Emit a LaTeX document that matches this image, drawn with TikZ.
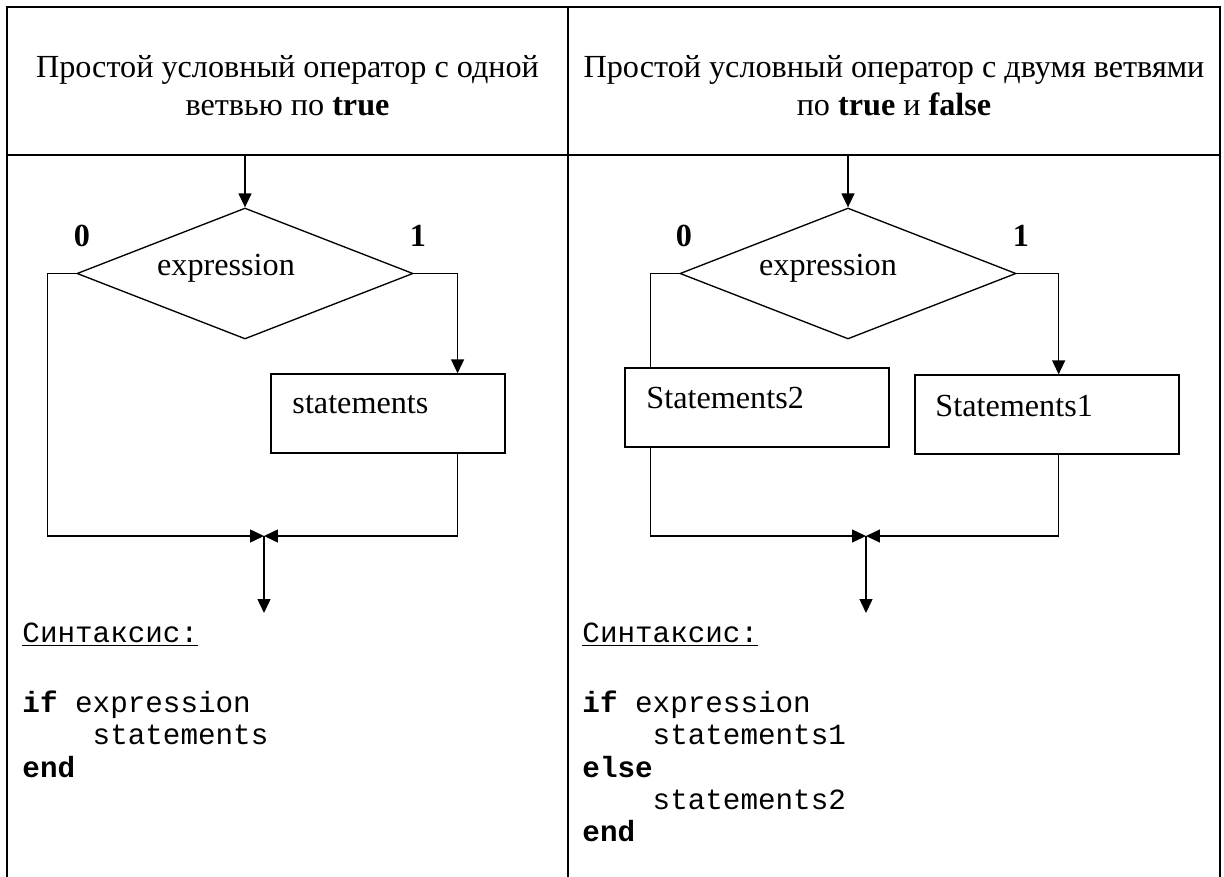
\documentclass[tikz,border=0pt]{standalone}
\usepackage{fontspec}
\setmainfont{Liberation Serif}
\setmonofont{Liberation Mono}
\usetikzlibrary{positioning, shapes.geometric, arrows.meta}
\newcommand{\codeind}{\hspace*{2.4em}}

\begin{document}
\begin{tikzpicture}[
    x=0.41pt, y=-0.41pt,
    font=\fontsize{13.2}{15.6}\selectfont\rmfamily,
    >={Triangle[length=5.7pt, width=5.3pt]},
    grid/.style={line width=0.82pt},
    flow/.style={line width=0.55pt, draw=black},
    arrow/.style={flow, ->},
    dec/.style={draw, line width=0.55pt, diamond, inner sep=0pt, minimum width=137.8pt, minimum height=53.7pt},
    box/.style={draw, line width=0.55pt, rectangle, inner sep=0pt, minimum width=108.2pt, minimum height=32.4pt},
    txt/.style={inner sep=0pt},
    flag/.style={inner sep=0pt, font=\fontsize{13.2}{15.6}\selectfont\bfseries},
    head/.style={align=center, inner sep=0pt},
    code/.style={align=left, inner sep=0pt, anchor=north west, font=\fontsize{12}{13.3}\selectfont\ttfamily}
  ]
    \useasboundingbox (0,0) rectangle (1224,877);

    % table
    \draw[grid] (7,877) -- (7,7) -- (1220,7) -- (1220,877);
    \draw[grid] (568,7) -- (568,877);
    \draw[grid] (7,155) -- (1220,155);

    \node[head] (h1) at (287.5,86) {Простой условный оператор с одной\\ветвью по \textbf{true}};
    \node[head] (h2) at (894,86) {Простой условный оператор с двумя ветвями\\по \textbf{true} и \textbf{false}};

    % ==========================================
    \coordinate (in1) at (245,155);
    \node[dec] (dia1) at (245,273.5) {};
    \node[txt] (ex1) at (226,268) {expression};
    \node[flag] (no1) at (82,236) {0};
    \node[flag] (yes1) at (418,236) {1};
    \node[box, minimum width=95.9pt] (st1) at (388,413.5) {};
    \node[txt, anchor=west] (st1t) at (292,405) {statements};
    \coordinate (j1) at (264,536);
    \coordinate (out1) at (264,613);
    \draw[arrow] (in1) -- (dia1.north);
    \draw[arrow] (dia1.west) -- ++(-29,0) |- (j1);
    \draw[arrow] (dia1.east) -| ([xshift=-19.7pt]st1.north east);
    \draw[arrow] ([xshift=-19.7pt]st1.south east) |- (j1);
    \draw[arrow] (j1) -- (out1);

    % ==========================================
    \coordinate (in2) at (848,155);
    \node[dec] (dia2) at (848,273.5) {};
    \node[txt] (ex2) at (828,268) {expression};
    \node[flag] (no2) at (684,236) {0};
    \node[flag] (yes2) at (1021,236) {1};
    \node[box] (st2) at (757,407.5) {};
    \node[txt, anchor=west] (st2t) at (646,398) {Statements2};
    \node[box] (st3) at (1047,414.5) {};
    \node[txt, anchor=west] (st3t) at (935,406) {Statements1};
    \coordinate (j2) at (866,536);
    \coordinate (out2) at (866,613);
    \draw[arrow] (in2) -- (dia2.north);
    \draw[flow] (dia2.west) -| ([xshift=10.7pt]st2.north west);
    \draw[arrow] ([xshift=10.7pt]st2.south west) |- (j2);
    \draw[arrow] (dia2.east) -| ([xshift=-49.6pt]st3.north east);
    \draw[arrow] ([xshift=-49.6pt]st3.south east) |- (j2);
    \draw[arrow] (j2) -- (out2);

    % ==========================================
    \node[code, anchor=base west] (syn1) at (22,642) {\underline{Синтаксис:}};
    \node[code] (src1) at (22,690) {\textbf{if} expression\\\codeind statements\\\textbf{end}};
    \node[code, anchor=base west] (syn2) at (582,642) {\underline{Синтаксис:}};
    \node[code] (src2) at (582,690) {\textbf{if} expression\\\codeind statements1\\\textbf{else}\\\codeind statements2\\\textbf{end}};

  \end{tikzpicture}
\end{document}
